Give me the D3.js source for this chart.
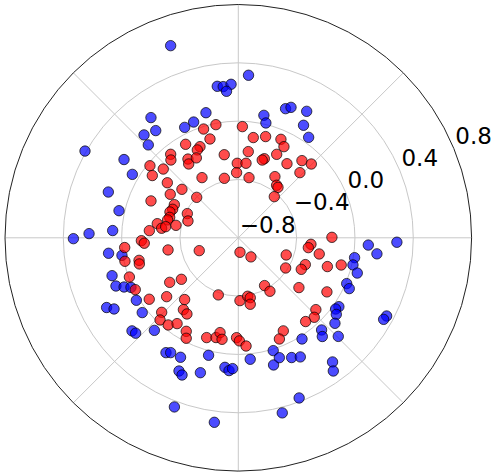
<!DOCTYPE html>
<html><head><meta charset="utf-8">
<script src="https://cdn.jsdelivr.net/npm/d3@7"></script>
<style>html,body{margin:0;padding:0;background:#fff;}svg{display:block;}</style>
</head><body>
<svg id="chart" width="499" height="476"></svg>
<script>
// radial axis
const rDomain = [-0.8, 0.8];
const rTicks = [-0.8, -0.4, 0.0, 0.4, 0.8];
const rTickLabels = ["\u22120.8", "\u22120.4", "0.0", "0.4", "0.8"];
const thetaGrid = [0, 45, 90, 135, 180, 225, 270, 315];

// series 1 (red): angle in degrees, radius value
const redTheta = [101.2,87.9,106,112.8,115,119.4,129,130.9,122.6,123.9,117.7,140.8,137.5,144.1,142.2,121.1,139.3,147.4,135.8,157.1,152.6,156.5,159.3,163.4,165.8,154.6,161.5,170.1,172.9,171.3,168.7,175.4,181.7,183.3,81.5,74.9,66.6,63.4,83.4,99.6,90.8,84.1,91.5,79.9,103.2,71.8,72.9,65.3,56.7,50.5,45.3,46.6,59.1,53.9,51.8,48.8,0.3,354.9,352,348.7,340.3,342.1,345.2,338.2,333.4,327.5,320.6,328.6,317.2,313.7,308.8,189.8,198.2,276.6,303.5,184.9,191.7,192.8,194.8,199.8,206.7,298.8,300.6,250.7,271.5,279.1,281.3,280.2,213,216.1,214.6,219.4,229,232.6,236,224.2,226.4,231.2,234.5,240.9,242.6,252.4,257.4,259.1,260.9,269,270.6,274.1,295.8,292.1,107.7];
const redR = [-0.009,-0.037,-0.095,-0.122,-0.135,-0.064,-0.063,-0.094,-0.159,-0.190,-0.181,-0.018,-0.102,-0.072,-0.184,-0.318,-0.290,-0.246,-0.402,-0.150,-0.306,-0.309,-0.299,-0.309,-0.300,-0.413,-0.436,-0.236,-0.270,-0.296,-0.364,-0.188,-0.135,-0.154,-0.105,-0.081,-0.064,-0.101,-0.205,-0.222,-0.289,-0.286,-0.353,-0.381,-0.381,-0.229,-0.242,-0.170,-0.192,-0.114,-0.088,-0.185,-0.311,-0.354,-0.360,-0.425,-0.158,-0.300,-0.315,-0.234,-0.451,-0.158,-0.070,-0.305,-0.317,-0.415,-0.262,-0.088,-0.075,-0.046,-0.063,-0.311,-0.518,-0.700,-0.643,-0.018,-0.006,-0.102,-0.098,-0.006,-0.009,-0.426,-0.374,-0.385,-0.369,-0.394,-0.381,-0.337,-0.239,-0.317,-0.058,-0.164,-0.239,-0.180,-0.170,-0.067,-0.022,-0.033,-0.077,-0.066,-0.024,-0.082,-0.099,-0.138,-0.095,-0.115,-0.093,-0.056,-0.091,-0.051,-0.017];

// series 2 (blue)
const blueTheta = [109.4,86.4,97.9,95.7,92.7,94.6,69.9,68,61.6,78.2,76.5,59.9,55,104.5,111.1,115.9,126,127.6,132.5,134.1,150.5,145.6,149.1,160.6,167.2,180.3,178.4,176.7,186.8,188.6,196.7,201.5,203.3,204.8,211.5,207.9,209.8,217.9,221.2,222.9,227.8,237.8,239.5,244.2,255.8,246,247.7,254.3,264.1,266,267.5,275.6,287.2,285.5,288.9,294,297.5,302.2,312.1,310.4,315.4,307.2,305.5,325.6,323.8,322,318.5,337.1,335.4,350.3,346.7,343.5,356.8,353.4,358.4,332.2,330.7,290.8,284.1,249.3,262.6];
const blueR = [0.597,0.317,0.249,0.242,0.254,0.208,0.143,0.165,0.186,0.058,0.010,0.092,0.041,0.086,0.051,0.042,0.219,0.128,0.157,0.087,0.408,0.150,0.047,0.145,0.039,0.331,0.224,0.063,0.096,0.007,0.104,0.102,0.053,0.011,0.020,0.222,0.182,0.035,0.169,0.161,0.057,0.131,0.114,0.110,0.031,0.200,0.217,0.161,0.093,0.113,0.098,0.037,0.010,0.105,0.069,0.099,0.121,0.020,0.052,0.089,0.163,0.269,0.322,0.036,0.027,0.053,0.085,0.007,0.037,0.009,0.008,0.051,0.093,0.157,0.288,0.350,0.343,0.375,0.438,0.440,0.476];

const svg = d3.select("#chart");
const cx = 238.3, cy = 237.8, R = 233.3;
const rScale = d3.scaleLinear().domain(rDomain).range([0, R]);
const aScale = d3.scaleLinear().domain([0, 360]).range([0, 2 * Math.PI]);
const px = (t, r) => cx + rScale(r) * Math.cos(aScale(t));
const py = (t, r) => cy - rScale(r) * Math.sin(aScale(t));

const g = svg.append("g");
// radial grid circles
g.selectAll("circle.grid").data(rTicks.filter(v => v > rDomain[0] && v < rDomain[1]))
  .join("circle").attr("class", "grid")
  .attr("cx", cx).attr("cy", cy).attr("r", d => rScale(d))
  .attr("fill", "none").attr("stroke", "#c8c8c8").attr("stroke-width", 1);
// angular spokes
g.selectAll("line.spoke").data(thetaGrid).join("line").attr("class", "spoke")
  .attr("x1", cx).attr("y1", cy)
  .attr("x2", d => px(d, rDomain[1])).attr("y2", d => py(d, rDomain[1]))
  .attr("stroke", "#c8c8c8").attr("stroke-width", 1);
// spine
g.append("circle").attr("cx", cx).attr("cy", cy).attr("r", rScale(rDomain[1]))
  .attr("fill", "none").attr("stroke", "#222").attr("stroke-width", 1);

// points
function drawSeries(thetas, rs, fill) {
  svg.append("g").selectAll("circle").data(thetas.map((t, i) => [t, rs[i]])).join("circle")
    .attr("cx", d => px(d[0], d[1])).attr("cy", d => py(d[0], d[1])).attr("r", 5.2)
    .attr("fill", fill).attr("stroke", "rgba(0,0,0,0.7)").attr("stroke-width", 1);
}
drawSeries(blueTheta, blueR, "rgba(0,0,255,0.7)");
drawSeries(redTheta, redR, "rgba(255,0,0,0.7)");

// radial tick labels at 22.5 degrees
svg.append("g").selectAll("text").data(rTicks).join("text")
  .attr("x", d => px(22.5, d) + 1.5).attr("y", d => py(22.5, d) - 5)
  .attr("font-family", "DejaVu Sans").attr("font-size", 23).attr("fill", "#000")
  .text((d, i) => rTickLabels[i]);
</script>
</body></html>
